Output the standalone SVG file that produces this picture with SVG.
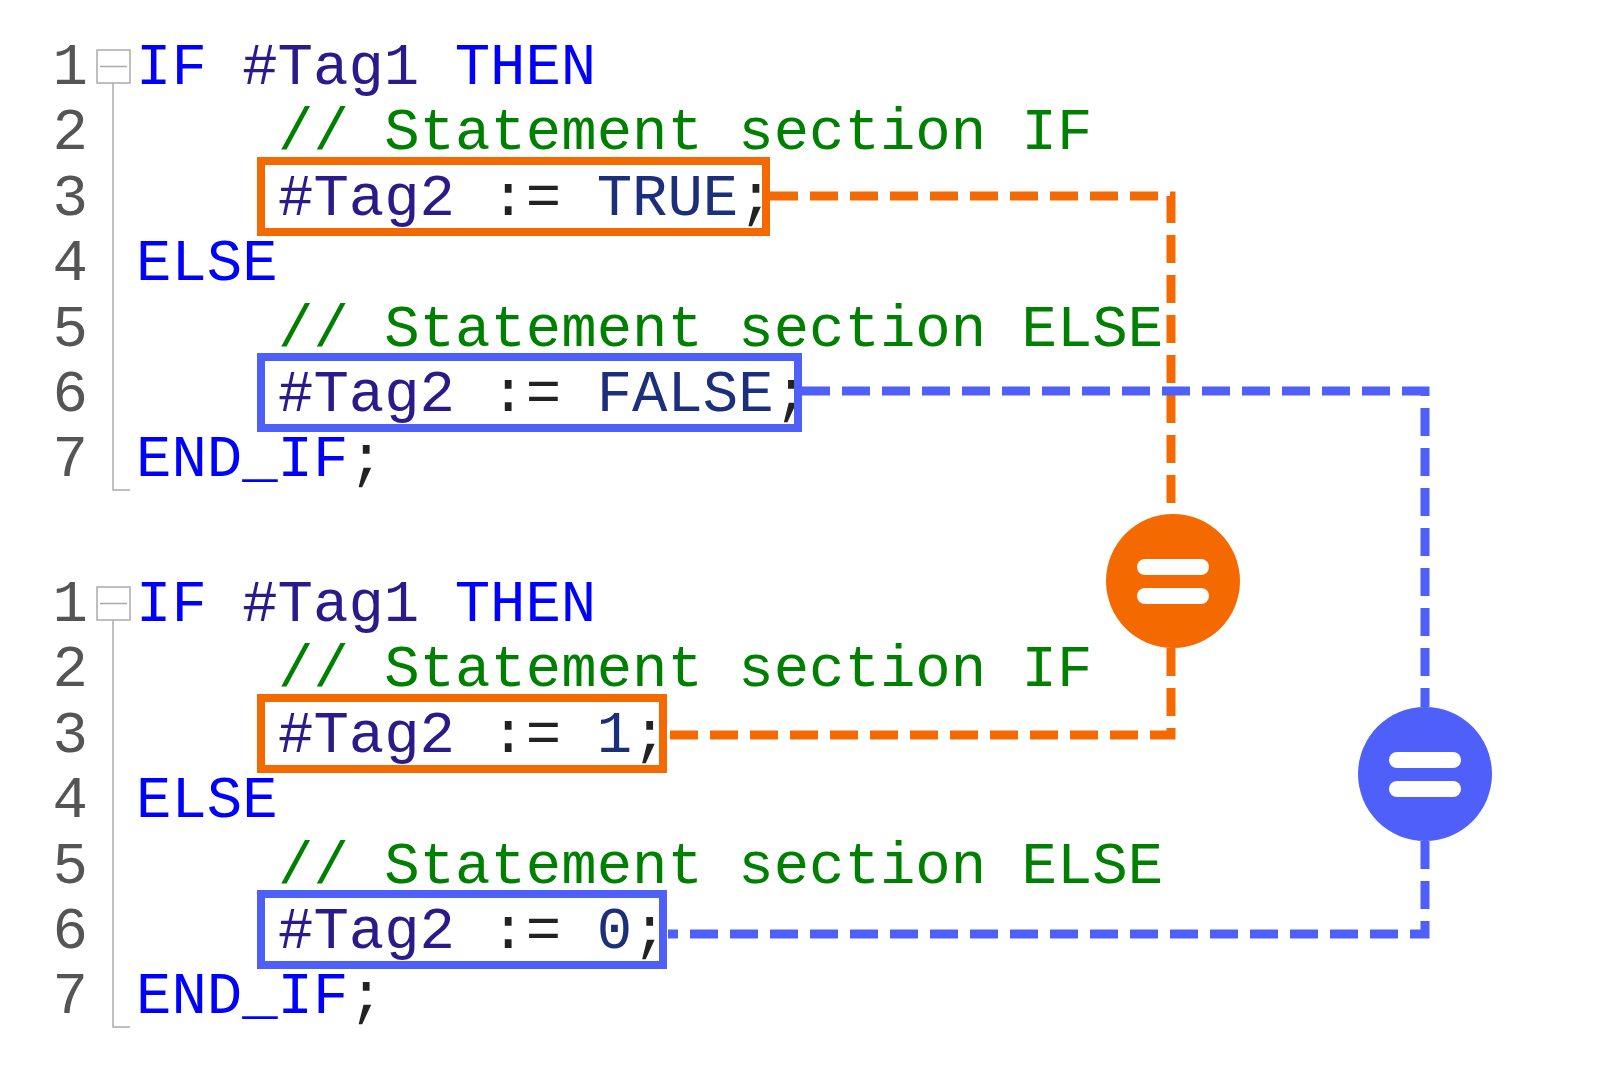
<svg xmlns="http://www.w3.org/2000/svg" width="1600" height="1075" viewBox="0 0 1600 1075">
<style>
text{font-family:"Liberation Mono","DejaVu Sans Mono",monospace;font-size:59px;white-space:pre}
.n{fill:#555;text-anchor:end}
.k{fill:#0000ff}
.t{fill:#2b1a8a}
.c{fill:#008000}
.o{fill:#222}
.v{fill:#1c2f7a}
.fold{fill:#fff;stroke:#aaa;stroke-width:1.5}
.gl{stroke:#aaa;stroke-width:1.5;fill:none}
.bo{fill:none;stroke:#f56a00;stroke-width:8}
.bb{fill:none;stroke:#4f5ffa;stroke-width:8}
.co{fill:none;stroke:#f56a00;stroke-width:9;stroke-dasharray:28 12}
.cb{fill:none;stroke:#4f5ffa;stroke-width:9;stroke-dasharray:28 12}
</style>
<rect width="1600" height="1075" fill="#fff"/>
<g id="code1">
<rect class="fold" x="97" y="50" width="33" height="33"/><line class="gl" x1="100" y1="66.5" x2="127" y2="66.5"/>
<path class="gl" d="M113 83V490H130"/>
<text class="n" x="88" y="84">1</text><text class="n" x="88" y="149">2</text><text class="n" x="88" y="215">3</text><text class="n" x="88" y="280">4</text><text class="n" x="88" y="346">5</text><text class="n" x="88" y="411">6</text><text class="n" x="88" y="476">7</text>
<text x="136" y="84"><tspan class="k">IF</tspan> <tspan class="t">#Tag1</tspan> <tspan class="k">THEN</tspan></text>
<text x="278" y="149" class="c">// Statement section IF</text>
<text x="278" y="215"><tspan class="t">#Tag2</tspan> <tspan class="o">:=</tspan> <tspan class="v">TRUE</tspan><tspan class="o">;</tspan></text>
<text x="136" y="280" class="k">ELSE</text>
<text x="278" y="346" class="c">// Statement section ELSE</text>
<text x="278" y="411"><tspan class="t">#Tag2</tspan> <tspan class="o">:=</tspan> <tspan class="v">FALSE</tspan><tspan class="o">;</tspan></text>
<text x="136" y="476"><tspan class="k">END_IF</tspan><tspan class="o">;</tspan></text>
</g>
<g id="code2">
<rect class="fold" x="97" y="587" width="33" height="33"/><line class="gl" x1="100" y1="603.5" x2="127" y2="603.5"/>
<path class="gl" d="M113 620V1027H130"/>
<text class="n" x="88" y="621">1</text><text class="n" x="88" y="686">2</text><text class="n" x="88" y="752">3</text><text class="n" x="88" y="817">4</text><text class="n" x="88" y="883">5</text><text class="n" x="88" y="948">6</text><text class="n" x="88" y="1013">7</text>
<text x="136" y="621"><tspan class="k">IF</tspan> <tspan class="t">#Tag1</tspan> <tspan class="k">THEN</tspan></text>
<text x="278" y="686" class="c">// Statement section IF</text>
<text x="278" y="752"><tspan class="t">#Tag2</tspan> <tspan class="o">:=</tspan> <tspan class="v">1</tspan><tspan class="o">;</tspan></text>
<text x="136" y="817" class="k">ELSE</text>
<text x="278" y="883" class="c">// Statement section ELSE</text>
<text x="278" y="948"><tspan class="t">#Tag2</tspan> <tspan class="o">:=</tspan> <tspan class="v">0</tspan><tspan class="o">;</tspan></text>
<text x="136" y="1013"><tspan class="k">END_IF</tspan><tspan class="o">;</tspan></text>
</g>
<g id="box-true"><rect class="bo" x="261" y="161" width="505" height="71"/></g>
<g id="box-false"><rect class="bb" x="261" y="357" width="537" height="71"/></g>
<g id="box-1"><rect class="bo" x="261" y="698" width="402" height="71"/></g>
<g id="box-0"><rect class="bb" x="261" y="894" width="402" height="71"/></g>
<g id="connectors">
<path class="co" d="M770 196H1171V514"/>
<path class="co" d="M1171 648V735H668"/>
<path class="cb" d="M802 391H1425V707"/>
<path class="cb" d="M1425 841V934H668"/>
</g>
<g id="eq-orange">
<circle cx="1173" cy="581" r="67" fill="#f56a00"/>
<rect x="1137" y="559" width="72" height="16" rx="8" fill="#fff"/>
<rect x="1137" y="588" width="72" height="16" rx="8" fill="#fff"/>
</g>
<g id="eq-blue">
<circle cx="1425" cy="774" r="67" fill="#4f5ffa"/>
<rect x="1389" y="752" width="72" height="16" rx="8" fill="#fff"/>
<rect x="1389" y="781" width="72" height="16" rx="8" fill="#fff"/>
</g>
</svg>
